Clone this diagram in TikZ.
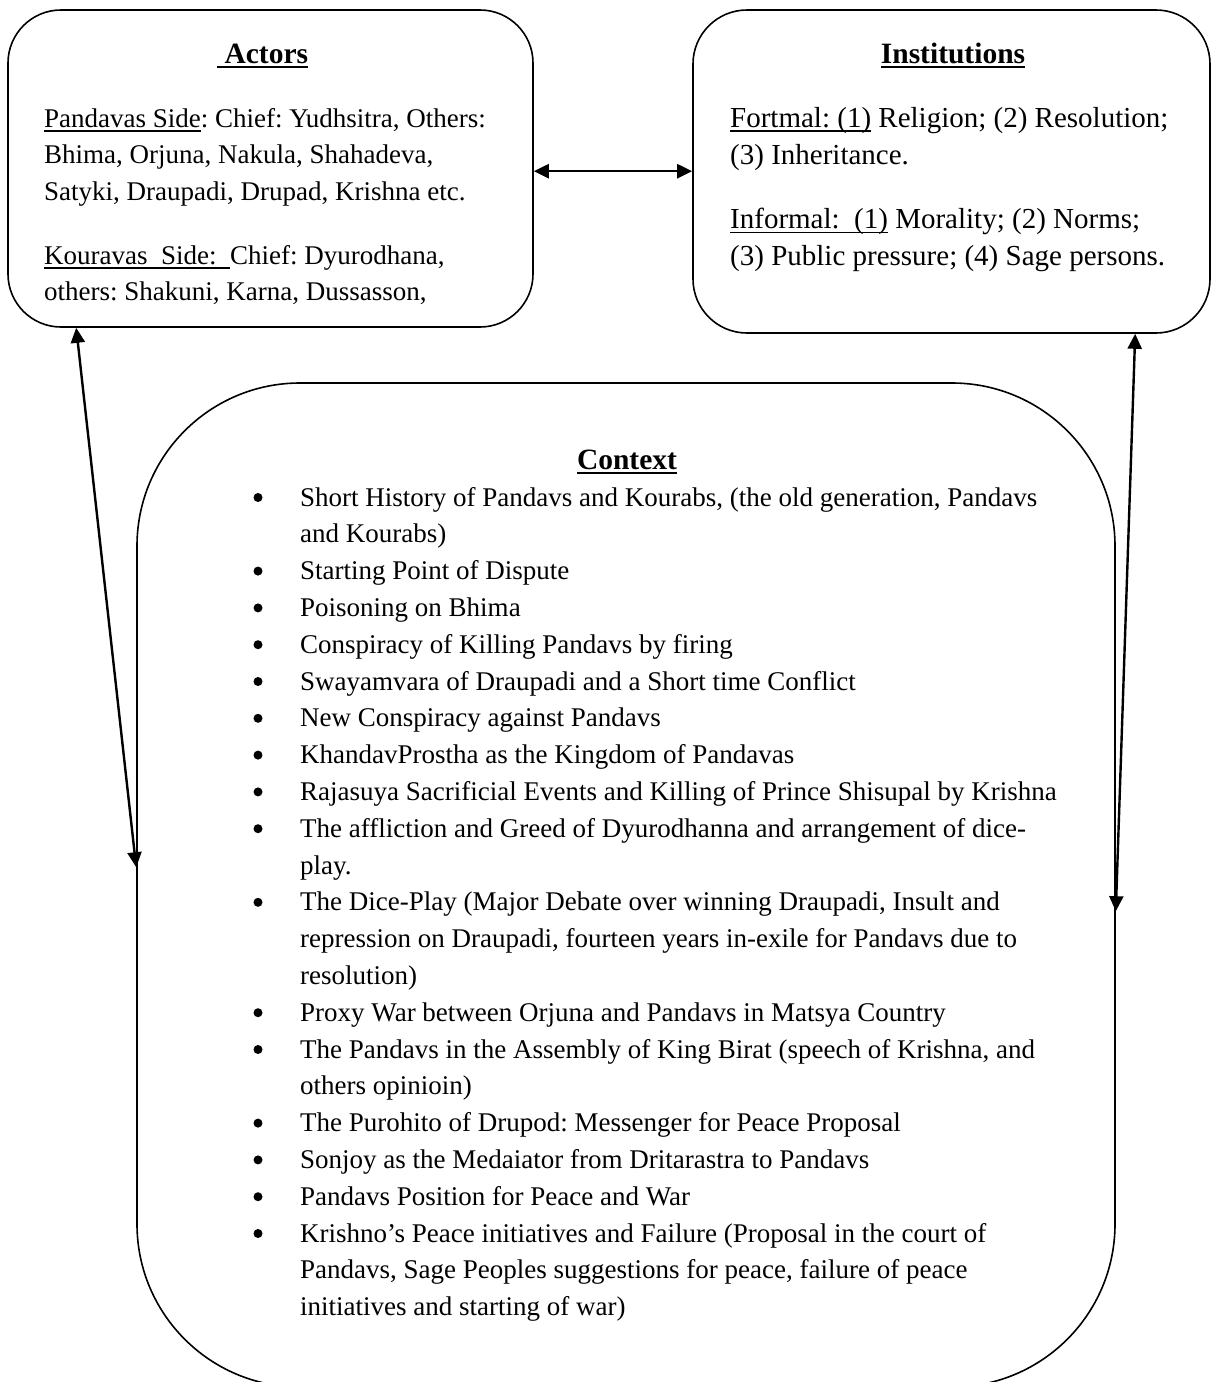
\documentclass[tikz,border=0pt]{standalone}
\usepackage{fontspec}
\setmainfont{Liberation Serif}
\usetikzlibrary{arrows.meta,calc}

% text sizes: body text, wider body text and bold headings
\newcommand{\bodyfont}{\fontsize{27}{36.8}\selectfont\frenchspacing}
\newcommand{\widefont}{\fontsize{29}{36.8}\selectfont\frenchspacing}
\newcommand{\headfont}{\fontsize{29.5}{36.8}\selectfont\bfseries}
% heavier underline placed a little below the baseline
\newcommand{\undr}[1]{\setbox0\hbox{#1}\rlap{\rule[-4.5pt]{\wd0}{1.5pt}}\box0\relax}

\begin{document}
\begin{tikzpicture}[x=1pt,y=-1pt,
  box/.style={draw, line width=1.6pt, rounded corners=#1, inner sep=0pt},
  link/.style={line width=2.4pt,
    {Triangle[length=15pt,width=14pt]}-{Triangle[length=15pt,width=14pt]}},
  txt/.style={inner sep=0pt, anchor=base west, font=\bodyfont},
  wtxt/.style={inner sep=0pt, anchor=base west, font=\widefont},
  head/.style={inner sep=0pt, anchor=base, font=\headfont},
  dot/.style={circle, fill, inner sep=0pt, minimum size=9pt}]
\useasboundingbox (0,0) rectangle (1212,1382);

% the three rounded boxes
\node[box=53pt, minimum width=525pt, minimum height=317pt] (actors) at (270.5,168.5) {};
\node[box=54pt, minimum width=517pt, minimum height=323pt] (inst) at (951.5,171.5) {};
\node[box=163pt, minimum width=978pt, minimum height=1004pt] (ctx) at (626,885) {};

% Actors
\node[head, anchor=base west] (actT) at (217,63) {\undr{\ Actors}};
\node[txt] (act1) at (44,127) {\undr{Pandavas Side}: Chief: Yudhsitra, Others:};
\node[txt] (act2) at (44,163.5) {Bhima, Orjuna, Nakula, Shahadeva,};
\node[txt] (act3) at (44,200) {Satyki, Draupadi, Drupad, Krishna etc.};
\node[txt] (act4) at (44,264) {\undr{Kouravas\ \ Side:\ \ }Chief: Dyurodhana,};
\node[txt] (act5) at (44,300.5) {others: Shakuni, Karna, Dussasson,};

% Institutions
\node[head] (insT) at (953,63) {\undr{Institutions}};
\node[wtxt] (ins1) at (730,127) {\undr{Fortmal: (1)} Religion; (2) Resolution;};
\node[wtxt] (ins2) at (730,164) {(3) Inheritance.};
\node[wtxt] (ins3) at (730,228.5) {\undr{Informal:\ \ (1)} Morality; (2) Norms;};
\node[wtxt] (ins4) at (730,265.5) {(3) Public pressure; (4) Sage persons.};

% Context: one node per printed line
\node[head] (ctxT) at (627,469) {\undr{Context}};
\foreach \line [count=\i] in {
  {Short History of Pandavs and Kourabs, (the old generation, Pandavs},
  {and Kourabs)},
  {Starting Point of Dispute},
  {Poisoning on Bhima},
  {Conspiracy of Killing Pandavs by firing},
  {Swayamvara of Draupadi and a Short time Conflict},
  {New Conspiracy against Pandavs},
  {KhandavProstha as the Kingdom of Pandavas},
  {Rajasuya Sacrificial Events and Killing of Prince Shisupal by Krishna},
  {The affliction and Greed of Dyurodhanna and arrangement of dice-},
  {play.},
  {The Dice-Play (Major Debate over winning Draupadi, Insult and},
  {repression on Draupadi, fourteen years in-exile for Pandavs due to},
  {resolution)},
  {Proxy War between Orjuna and Pandavs in Matsya Country},
  {The Pandavs in the Assembly of King Birat (speech of Krishna, and},
  {others opinioin)},
  {The Purohito of Drupod: Messenger for Peace Proposal},
  {Sonjoy as the Medaiator from Dritarastra to Pandavs},
  {Pandavs Position for Peace and War},
  {Krishno’s Peace initiatives and Failure (Proposal in the court of},
  {Pandavs, Sage Peoples suggestions for peace, failure of peace},
  {initiatives and starting of war)}}
  \node[txt] (ctx\i) at (300,{506+36.8*(\i-1)}) {\line};
% list bullets in front of the first line of each item
\foreach \i in {1,3,4,5,6,7,8,9,10,12,15,16,18,19,20,21}
  \node[dot] (bul\i) at (258,{497.5+36.8*(\i-1)}) {};

% connector end points on the box borders
\coordinate (aR) at ($(actors.north east)+(0,162)$);
\coordinate (iL) at (inst.west |- aR);
\coordinate (aB) at ($(actors.south west)+(69,0)$);
\coordinate (cL) at ($(ctx.north west)+(0,485)$);
\coordinate (iB) at ($(inst.south west)+(443,0)$);
\coordinate (cR) at ($(ctx.north east)+(0,529)$);

\draw[link] (aR) -- (iL);
\draw[link] (aB) -- (cL);
\draw[link] (iB) -- (cR);
\end{tikzpicture}
\end{document}
